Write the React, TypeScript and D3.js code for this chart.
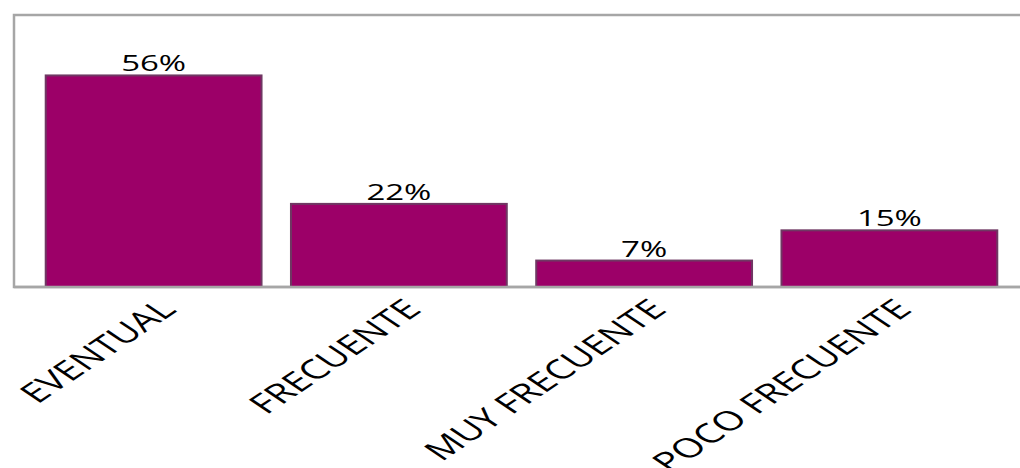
import { useEffect, useRef } from 'react';
import * as d3 from 'd3';

const categories = ['EVENTUAL', 'FRECUENTE', 'MUY FRECUENTE', 'POCO FRECUENTE'];
const values = [56, 22, 7, 15];
const valueLabels = ['56%', '22%', '7%', '15%'];

const W = 1020;
const H = 468;

export default function App() {
  const svgRef = useRef<SVGSVGElement>(null);

  useEffect(() => {
    if (!svgRef.current) return;
    const svg = d3.select(svgRef.current);
    svg.selectAll('*').remove();

    const frameLeft = 14;
    const frameTop = 15;
    const baseY = 287;
    const stretch = 1.5;

    const x = d3.scaleBand<string>().domain(categories).range([31, 1012]).paddingInner(0.12).paddingOuter(0.06);
    const y = d3.scaleLinear().domain([0, 72]).range([baseY, frameTop]);

    // frame
    svg
      .append('path')
      .attr('d', `M${W},${frameTop}H${frameLeft}V${baseY}H${W}`)
      .attr('fill', 'none')
      .attr('stroke', '#a6a6a6')
      .attr('stroke-width', 2.5);

    // bars
    svg
      .selectAll('.bar')
      .data(values)
      .enter()
      .append('rect')
      .attr('x', (d, i) => x(categories[i])!)
      .attr('y', (d) => y(d))
      .attr('width', x.bandwidth())
      .attr('height', (d) => baseY - y(d))
      .attr('fill', '#9c0068')
      .attr('stroke', '#6f3863')
      .attr('stroke-width', 2);

    // redraw baseline over bars
    svg
      .append('line')
      .attr('x1', frameLeft)
      .attr('x2', W)
      .attr('y1', baseY)
      .attr('y2', baseY)
      .attr('stroke', '#a6a6a6')
      .attr('stroke-width', 2.5);

    // value labels
    svg
      .selectAll('.val')
      .data(values)
      .enter()
      .append('text')
      .attr('transform', (d, i) => `translate(${x(categories[i])! + x.bandwidth() / 2},${y(d) - 4}) scale(${stretch},1)`)
      .attr('text-anchor', 'middle')
      .style('font-family', '"Open Sans", sans-serif')
      .style('font-size', '22px')
      .style('fill', '#000')
      .text((d, i) => valueLabels[i]);

    // category labels
    svg
      .selectAll('.cat')
      .data(categories)
      .enter()
      .append('text')
      .attr('transform', (d) => `translate(${x(d)! + x.bandwidth() / 2 + 24},${baseY + 24}) scale(${stretch},1) rotate(-45)`)
      .attr('text-anchor', 'end')
      .style('font-family', '"Open Sans", sans-serif')
      .style('font-size', '27px')
      .style('fill', '#000')
      .text((d) => d);
  }, []);

  return (
    <svg
      ref={svgRef}
      width={W}
      height={H}
      style={{ position: 'absolute', left: 0, top: 0, background: '#fff' }}
    />
  );
}
